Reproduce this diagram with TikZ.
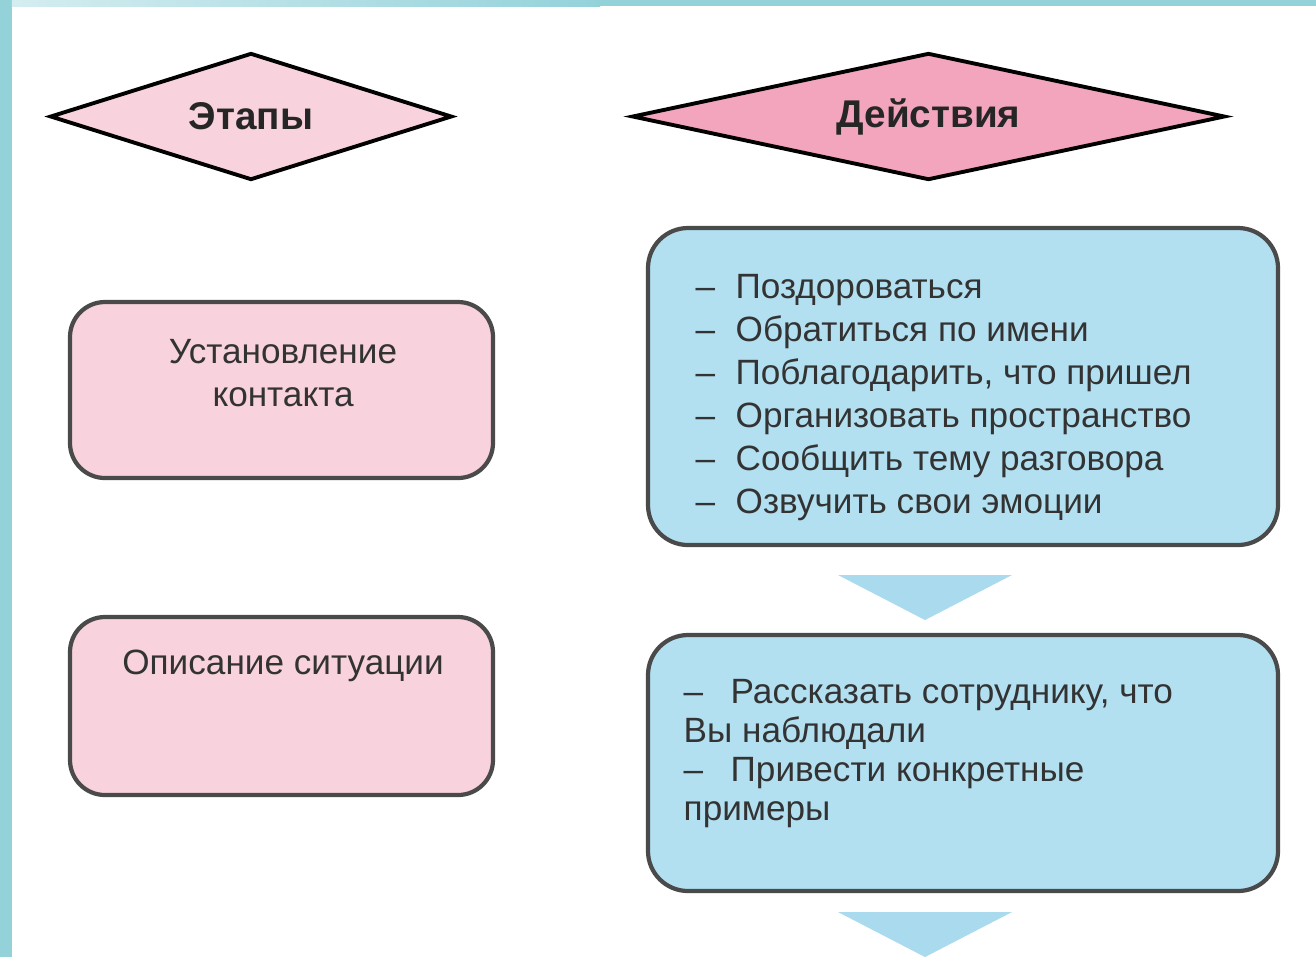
\documentclass[tikz,border=0pt]{standalone}
\usepackage{fontspec}
\setmainfont{Liberation Sans}
\usetikzlibrary{shapes.geometric,positioning}
\definecolor{bandteal}{HTML}{94D2DA}
\definecolor{pinklight}{HTML}{F8D3DD}
\definecolor{pinkdark}{HTML}{F2A5BD}
\definecolor{bluebox}{HTML}{B2E0F1}
\definecolor{bluearrow}{HTML}{A9DAEE}
\definecolor{edgegray}{HTML}{4A4A4A}
\newcommand{\dashitem}[1]{\makebox[0.40cm][l]{–}#1}
\begin{document}
\begin{tikzpicture}[
  rhomb/.style={diamond, draw=black, line width=1.1pt, shape aspect=4, inner sep=0pt,
    font=\bfseries\fontsize{11}{13}\selectfont, text=black!85},
  stagebox/.style={rectangle, rounded corners=0.35cm, draw=edgegray, line width=1.2pt,
    fill=pinklight, minimum width=4.23cm},
  actbox/.style={rectangle, rounded corners=0.4cm, draw=edgegray, line width=1.2pt,
    fill=bluebox, minimum width=6.30cm},
  boxtext/.style={inner sep=0pt, text=black!80, font=\fontsize{10}{12.2}\selectfont}
]
  \useasboundingbox (0,0) rectangle (13.16,-9.57);
  \fill[white] (0,0) rectangle (13.16,-9.57);
  \fill[bandteal] (0,0) rectangle (0.12,-9.57);
  \shade[left color=bandteal!40, right color=bandteal] (0.12,0) rectangle (6.00,-0.06);
  \fill[bandteal] (6.00,0) rectangle (13.16,-0.06);

  \node[rhomb, fill=pinklight, minimum width=4.02cm, minimum height=1.27cm] (A) at (2.51,-1.165) {Этапы};
  \node[rhomb, fill=pinkdark, minimum width=5.93cm, minimum height=1.27cm] (B) at (9.285,-1.165) {Действия};

  \node[stagebox, minimum height=1.76cm] (C) at (2.815,-3.90) {};
  \node[stagebox, minimum height=1.78cm] (D) at (2.815,-7.06) {};
  \node[boxtext, align=center, anchor=north] (E) at (2.83,-3.39) {Установление\\контакта};
  \node[boxtext, anchor=north] (F) at (2.83,-6.49) {Описание ситуации};

  \node[actbox, minimum height=3.17cm] (G) at (9.63,-3.865) {};
  \node[actbox, minimum height=2.56cm] (H) at (9.63,-7.63) {};
  \node[boxtext, align=left, anchor=north west] (I) at (6.95,-2.74) {\dashitem{Поздороваться}\\
    \dashitem{Обратиться по имени}\\
    \dashitem{Поблагодарить, что пришел}\\
    \dashitem{Организовать пространство}\\
    \dashitem{Сообщить тему разговора}\\
    \dashitem{Озвучить свои эмоции}};
  \node[boxtext, align=left, anchor=north west, font=\fontsize{10}{11.1}\selectfont] (J) at (6.83,-6.79)
    {\makebox[0.47cm][l]{–}Рассказать сотруднику, что\\
    Вы наблюдали\\
    \makebox[0.47cm][l]{–}Привести конкретные\\
    примеры};

  \fill[bluearrow] (8.38,-5.75) -- (10.12,-5.75) -- (9.25,-6.20) -- cycle;
  \fill[bluearrow] (8.38,-9.12) -- (10.12,-9.12) -- (9.25,-9.57) -- cycle;
\end{tikzpicture}
\end{document}
